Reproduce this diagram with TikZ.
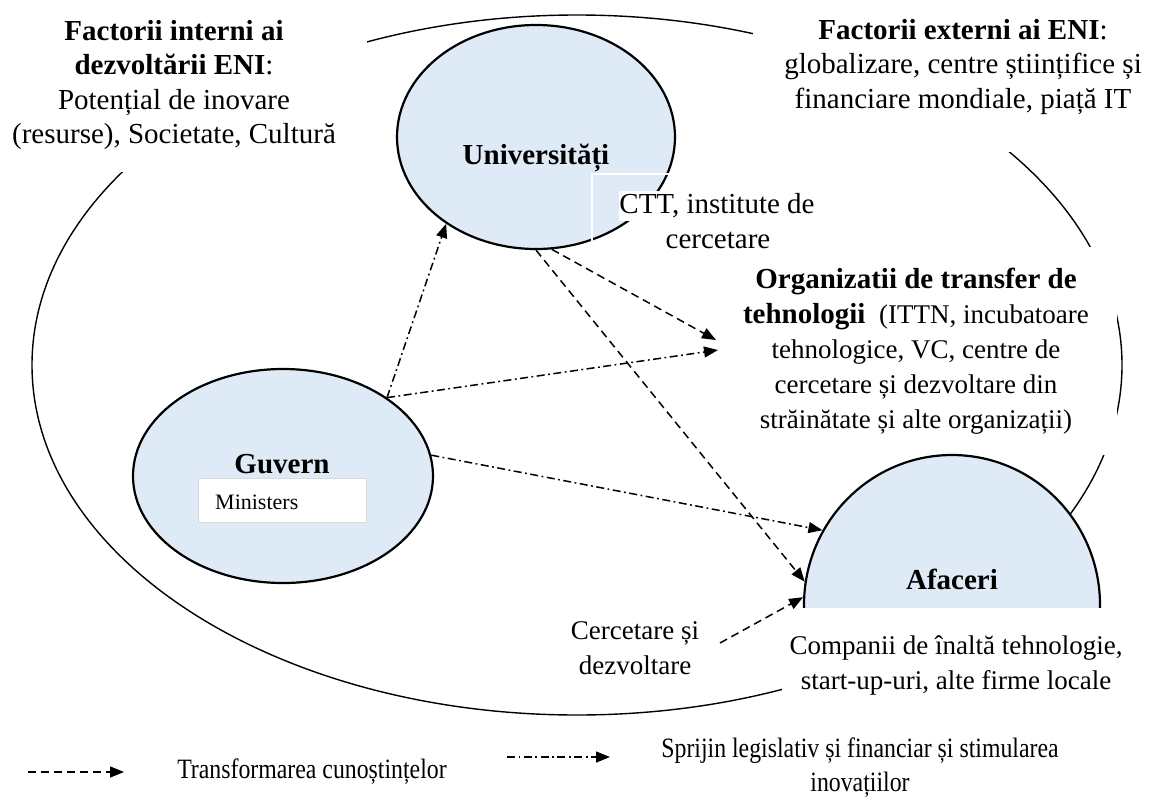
\documentclass[tikz,border=0pt]{standalone}
\usepackage{fontspec}
\setmainfont{Liberation Serif}
\newfontfamily\narrowfont[FakeStretch=0.85]{Liberation Serif}
\usetikzlibrary{shapes.geometric,arrows.meta}
\definecolor{ellfill}{HTML}{DEEAF6}
\tikzset{
  bubble/.style={ellipse, draw, line width=2.2pt, fill=ellfill, inner sep=0pt},
  outerell/.style={ellipse, draw, line width=1.4pt, inner sep=0pt},
  ktarrow/.style={-{Triangle[length=14pt,width=11pt]}, line width=1.5pt, dash pattern=on 8pt off 5pt},
  suparrow/.style={-{Triangle[length=14pt,width=11pt]}, line width=1.5pt, dash pattern=on 8pt off 3.5pt on 1.8pt off 3.5pt},
  big/.style={font=\fontsize{29}{34.5}\selectfont, align=center, inner sep=0pt},
  mid/.style={font=\fontsize{27}{35}\selectfont, align=center, inner sep=0pt},
  legendtxt/.style={font=\narrowfont\fontsize{28}{34}\selectfont, align=center, inner sep=0pt}
}
\begin{document}
\begin{tikzpicture}[x=1pt,y=-1pt]
\useasboundingbox[fill=white] (0,0) rectangle (1149,798);
% outer ellipse
\node[outerell, minimum width=1090pt, minimum height=700pt] (outer) at (577,365) {};
% white masks of the text areas
\fill[white] (0,0) rectangle (367,172);
\fill[white] (753,0) rectangle (1149,152);
\fill[white] (720,247) rectangle (1117,455);
% actors
\node[bubble, minimum width=278pt, minimum height=224pt] (univ) at (536,137) {};
\node[bubble, minimum width=300pt, minimum height=214pt] (guv) at (283,476) {};
\node[bubble, minimum width=296pt, minimum height=300pt] (afa) at (952,605) {};
\fill[white] (782,608) rectangle (1135,760);
% CTT box
\draw[white, line width=1.5pt] (592,174) rectangle (835,258);
\node[big, fill=white, inner ysep=3pt] (ctt1) at (717,206) {CTT, institute de};
\node[big] (ctt2) at (718,240) {cercetare};
% Ministers box
\node[draw=black!15, fill=white, line width=0.6pt, minimum width=168pt, minimum height=44pt, anchor=north west, inner sep=0pt] (minbox) at (198,478) {};
\node[font=\fontsize{22}{26}\selectfont, anchor=west, inner sep=0pt] (minlbl) at (215,502) {Ministers};
% labels
\node[big] (intern) at (174,85) {\textbf{Factorii interni ai}\\\textbf{dezvoltării ENI}:\\Potențial de inovare\\(resurse), Societate, Cultură};
\node[big] (extern) at (963,67) {\textbf{Factorii externi ai ENI}:\\globalizare, centre științifice și\\financiare mondiale, piață IT};
\node[big, font=\fontsize{29}{34.5}\selectfont\bfseries] (univlbl) at (536,158) {Universități};
\node[big, font=\fontsize{29}{34.5}\selectfont\bfseries] (guvlbl) at (282,464) {Guvern};
\node[big, font=\fontsize{29}{34.5}\selectfont\bfseries] (afalbl) at (952,579) {Afaceri};
\node[mid] (orgtxt) at (916,351.5) {{\fontsize{29}{35}\selectfont\bfseries Organizatii de transfer de}\\{\fontsize{29}{35}\selectfont\bfseries tehnologii}\ \ (ITTN, incubatoare\\tehnologice, VC, centre de\\cercetare și dezvoltare din\\străinătate și alte organizații)};
\node[mid] (afatxt) at (956,665) {Companii de înaltă tehnologie,\\start-up-uri, alte firme locale};
\node[mid] (cdtxt) at (635,648) {Cercetare și\\dezvoltare};
% connector end points
\coordinate (orgin1) at (716,340);
\coordinate (orgin2) at (718,350);
\coordinate (cdout) at (720,643);
% connectors
\draw[ktarrow] (univ.270) -- (afa.171);
\draw[ktarrow] (univ.-82) -- (orgin1);
\draw[suparrow] (guv.37) -- (univ.224);
\draw[suparrow] (guv.37) -- (orgin2);
\draw[suparrow] (guv.8) -- (afa.150);
\draw[ktarrow] (cdout) -- (afa.177);
% legend
\coordinate (lk1) at (28,772);
\coordinate (lk2) at (124,772);
\draw[ktarrow] (lk1) -- (lk2);
\node[legendtxt] (lktxt) at (312,772) {Transformarea cunoștințelor};
\coordinate (ls1) at (507,757);
\coordinate (ls2) at (610,757);
\draw[suparrow] (ls1) -- (ls2);
\node[legendtxt] (lstxt) at (860,768) {Sprijin legislativ și financiar și stimularea\\inovațiilor};
\end{tikzpicture}
\end{document}
